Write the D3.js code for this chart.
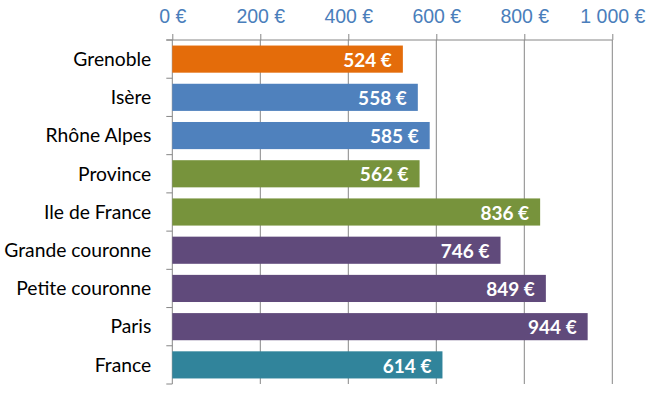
<!DOCTYPE html>
<html>
<head>
<meta charset="utf-8">
<script src="https://cdn.jsdelivr.net/npm/d3@7"></script>
<style>
  body { margin: 0; background: #fff; }
  svg { display: block; }
</style>
</head>
<body>
<div id="chart"></div>
<script>
const categories = ["Grenoble", "Isère", "Rhône Alpes", "Province", "Ile de France",
    "Grande couronne", "Petite couronne", "Paris", "France"];
const values = [524, 558, 585, 562, 836, 746, 849, 944, 614];
const colors = ["#e46c0a", "#4f81bd", "#4f81bd", "#77933c", "#77933c",
    "#604a7b", "#604a7b", "#604a7b", "#31849b"];
const ticks = [0, 200, 400, 600, 800, 1000];

const W = 652, H = 398;
const margin = { top: 40, right: 40, bottom: 14, left: 172.3 };
const width = W - margin.left - margin.right;
const height = H - margin.top - margin.bottom;

const fmt = v => d3.format(",")(v).replace(/,/g, "\u00a0") + " €";

const svg = d3.select("#chart").append("svg")
    .attr("width", W).attr("height", H)
    .append("g")
    .attr("transform", `translate(${margin.left},${margin.top})`);

const x = d3.scaleLinear().domain([0, 1000]).range([0, 440]);
const y = d3.scaleBand().domain(categories).range([0, height]).paddingInner(0.29).paddingOuter(0.145);

// gridlines
svg.append("g").selectAll("line")
    .data(ticks.slice(1))
    .join("line")
    .attr("x1", d => x(d)).attr("x2", d => x(d))
    .attr("y1", 0).attr("y2", height)
    .attr("stroke", "#868686").attr("stroke-width", 1);

// top axis
const xAxis = svg.append("g")
    .call(d3.axisTop(x).tickValues(ticks).tickSize(6).tickPadding(11).tickFormat(fmt));
xAxis.select(".domain").remove();
xAxis.append("line").attr("x1", -6).attr("x2", x(1000)).attr("y1", 0).attr("y2", 0)
    .attr("stroke", "#868686");
xAxis.selectAll(".tick line").attr("stroke", "#868686");
xAxis.selectAll(".tick text")
    .attr("fill", "#4a7ebb")
    .style("font-family", "'Liberation Sans', Arial, sans-serif")
    .style("font-size", "19.5px");

// left axis
const step = y.step();
svg.append("line").attr("x1", 0).attr("x2", 0).attr("y1", 0).attr("y2", height)
    .attr("stroke", "#868686");
svg.append("g").selectAll("line")
    .data(d3.range(categories.length + 1))
    .join("line")
    .attr("x1", -6).attr("x2", 0)
    .attr("y1", i => i * step).attr("y2", i => i * step)
    .attr("stroke", "#868686");

svg.append("g").selectAll("text")
    .data(categories)
    .join("text")
    .attr("x", -21)
    .attr("y", d => y(d) + y.bandwidth() / 2)
    .attr("dy", "0.35em")
    .attr("text-anchor", "end")
    .style("font-family", "Lato, sans-serif")
    .style("font-size", "19.3px")
    .attr("fill", "#000")
    .text(d => d);

// bars
svg.append("g").selectAll("rect")
    .data(categories)
    .join("rect")
    .attr("x", 0)
    .attr("y", d => y(d))
    .attr("width", (d, i) => x(values[i]))
    .attr("height", y.bandwidth())
    .attr("fill", (d, i) => colors[i]);

svg.append("g").selectAll("text")
    .data(categories)
    .join("text")
    .attr("x", (d, i) => x(values[i]) - 11)
    .attr("y", d => y(d) + y.bandwidth() / 2 + 1)
    .attr("dy", "0.35em")
    .attr("text-anchor", "end")
    .style("font-family", "Lato, sans-serif")
    .style("font-weight", "bold")
    .style("font-size", "19px")
    .attr("fill", "#fff")
    .text((d, i) => values[i] + " €");
</script>
</body>
</html>
